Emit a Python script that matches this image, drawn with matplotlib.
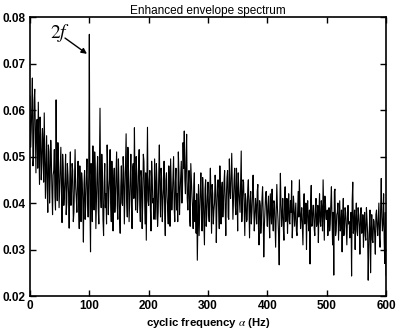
import numpy as np
import matplotlib
matplotlib.use("Agg")
import matplotlib.pyplot as plt

# spectrum values in units of 1e-3
# even_e3: 0, 2, 4 ... 600 Hz ; odd_e3: 1, 3, 5 ... 599 Hz
even_e3 = [
    63.0, 55.5, 66.9, 50.0, 64.5, 46.5, 58.0, 61.7, 44.0, 55.0,
    48.5, 53.0, 59.4, 41.0, 54.5, 38.0, 51.0, 45.5, 49.5, 37.5,
    47.0, 41.5, 62.2, 40.5, 49.0, 43.5, 52.0, 35.8, 47.5, 42.0,
    50.5, 40.0, 46.0, 34.6, 51.0, 42.5, 47.0, 38.0, 51.5, 41.0,
    45.0, 39.5, 48.0, 36.0, 44.5, 31.6, 47.0, 40.0, 49.5, 37.0,
    76.3, 29.5, 45.0, 52.3, 38.5, 47.5, 41.0, 50.0, 35.5, 60.4,
    39.0, 46.0, 33.0, 48.5, 42.0, 52.5, 37.5, 45.0, 40.0, 49.0,
    34.0, 47.5, 41.5, 51.0, 36.5, 44.0, 33.5, 48.0, 39.5, 46.5,
    42.0, 54.9, 37.0, 47.0, 40.5, 50.5, 34.5, 48.5, 56.2, 38.5,
    46.0, 41.0, 51.5, 36.0, 45.5, 40.0, 49.0, 35.5, 32.0, 56.3,
    39.5, 47.0, 34.0, 45.5, 41.0, 49.5, 36.5, 44.0, 38.0, 52.5,
    37.0, 45.0, 40.5, 49.0, 33.0, 46.5, 39.0, 48.0, 35.0, 44.0,
    41.5, 50.0, 36.0, 47.5, 42.0, 51.0, 37.5, 45.5, 40.0, 53.0,
    55.5, 42.0, 54.8, 38.5, 47.0, 35.0, 45.0, 39.0, 43.5, 36.0,
    33.5, 27.7, 44.0, 38.0, 46.5, 34.0, 41.5, 31.0, 45.0, 37.5,
    44.5, 36.0, 47.5, 33.5, 42.0, 38.5, 46.0, 31.5, 43.0, 39.0,
    48.0, 35.5, 44.5, 40.0, 47.0, 33.0, 45.5, 37.0, 49.5, 41.0,
    50.7, 36.5, 45.0, 39.5, 47.5, 34.0, 43.0, 38.0, 51.2, 40.0,
    44.5, 33.0, 40.5, 36.5, 45.0, 32.5, 42.5, 38.0, 46.0, 34.0,
    41.0, 35.5, 44.0, 31.0, 39.5, 36.0, 43.5, 28.4, 38.5, 42.5,
    35.0, 41.5, 32.5, 39.0, 43.0, 34.0, 40.0, 30.5, 44.0, 36.5,
    26.7, 46.4, 35.0, 41.0, 32.0, 43.5, 37.0, 33.5, 42.0, 35.5,
    38.0, 32.5, 41.5, 35.0, 40.0, 33.0, 42.5, 45.0, 34.5, 39.0,
    31.0, 42.0, 36.5, 30.0, 40.5, 34.0, 26.9, 43.8, 35.5, 39.5,
    33.0, 41.0, 36.0, 31.5, 42.0, 35.0, 38.5, 45.0, 32.0, 40.0,
    36.5, 33.0, 39.0, 35.5, 43.5, 31.0, 24.5, 43.0, 34.0, 38.0,
    32.0, 40.5, 35.0, 29.5, 41.0, 34.5, 38.0, 31.0, 39.5, 36.0,
    33.5, 24.3, 44.5, 35.0, 30.0, 40.0, 33.0, 37.5, 29.0, 39.0,
    34.0, 30.5, 38.0, 32.0, 36.5, 23.4, 35.0, 25.0, 37.5, 31.5,
    36.0, 29.0, 38.5, 33.0, 40.0, 30.5, 45.3, 34.0, 42.0, 27.0,
    24.5,
]
odd_e3 = [
    52.0, 60.5, 48.0, 62.0, 55.0, 57.5, 47.5, 52.5, 58.5, 45.0,
    56.0, 44.5, 50.0, 47.5, 43.0, 52.5, 40.0, 53.5, 42.5, 46.0,
    51.5, 38.5, 45.5, 53.0, 39.0, 48.0, 42.5, 50.5, 39.5, 45.5,
    37.5, 48.5, 42.0, 44.5, 39.5, 48.5, 36.0, 45.0, 43.5, 38.0,
    49.0, 34.5, 43.0, 46.5, 40.5, 44.0, 36.5, 45.5, 41.5, 46.0,
    40.0, 48.5, 36.0, 43.5, 51.0, 34.5, 46.5, 39.0, 47.0, 42.0,
    50.5, 36.5, 44.5, 39.0, 35.5, 47.0, 42.5, 51.5, 36.0, 43.0,
    45.0, 38.0, 46.0, 39.5, 49.5, 37.0, 43.5, 40.0, 50.0, 35.5,
    47.5, 40.5, 52.0, 36.0, 45.0, 39.5, 47.5, 41.0, 44.0, 50.0,
    38.0, 48.0, 39.5, 47.0, 34.5, 50.5, 42.0, 46.5, 44.5, 40.5,
    45.0, 38.5, 49.0, 40.0, 36.5, 43.0, 48.5, 35.0, 46.0, 42.0,
    47.5, 36.0, 43.0, 38.0, 45.0, 41.5, 35.5, 44.0, 49.5, 38.5,
    46.0, 39.0, 44.5, 38.5, 36.0, 46.5, 42.5, 49.0, 43.0, 47.5,
    45.0, 49.5, 41.0, 44.0, 37.0, 48.5, 41.5, 34.5, 46.5, 40.5,
    42.0, 36.5, 33.0, 42.5, 39.0, 45.5, 36.0, 43.0, 35.0, 41.5,
    38.0, 42.5, 40.5, 44.0, 35.5, 40.0, 43.5, 39.0, 45.0, 34.5,
    41.0, 43.0, 37.0, 44.5, 39.0, 41.5, 47.0, 36.5, 43.0, 45.5,
    43.5, 41.0, 47.5, 37.5, 42.5, 46.5, 40.5, 44.5, 36.0, 45.0,
    38.5, 42.0, 36.0, 43.0, 39.5, 40.5, 35.5, 41.5, 40.0, 37.0,
    39.0, 42.5, 35.0, 40.5, 33.5, 41.0, 38.0, 35.0, 41.5, 37.5,
    39.5, 36.0, 42.0, 35.5, 37.5, 40.5, 35.0, 38.5, 39.0, 33.0,
    38.0, 40.0, 37.5, 34.5, 40.5, 36.0, 41.0, 38.5, 36.0, 40.5,
    44.8, 36.0, 39.0, 37.5, 34.0, 38.0, 37.0, 39.5, 37.0, 35.0,
    39.0, 35.5, 40.0, 38.5, 36.0, 38.5, 40.5, 35.0, 39.5, 34.5,
    38.5, 35.0, 39.5, 38.0, 36.0, 40.5, 34.0, 39.0, 41.5, 36.5,
    38.5, 36.5, 34.0, 40.0, 36.5, 38.0, 42.5, 33.0, 37.5, 40.0,
    36.0, 34.0, 38.5, 37.0, 33.0, 39.0, 34.5, 37.0, 35.5, 32.5,
    38.0, 40.5, 33.5, 38.5, 36.5, 34.0, 39.0, 35.0, 37.5, 33.5,
    37.5, 35.5, 33.0, 39.0, 33.5, 30.5, 38.5, 34.0, 32.0, 36.5,
    33.0, 37.5, 35.0, 36.5, 32.5, 39.0, 37.0, 36.0, 31.5, 38.0,
]

x_ticks = [0, 100, 200, 300, 400, 500, 600]
y_ticks = [0.02, 0.03, 0.04, 0.05, 0.06, 0.07, 0.08]

# put the two halves back in frequency order
amp = np.empty(len(even_e3) + len(odd_e3))
amp[0::2] = even_e3
amp[1::2] = odd_e3
amp = amp * 1e-3
freq = np.arange(len(amp))

plt.rcParams['font.family'] = ['Liberation Sans', 'DejaVu Sans']
plt.rcParams['mathtext.fontset'] = 'stix'

fig = plt.figure(figsize=(4.0, 3.36), dpi=100)
ax = fig.add_axes([0.075, 0.119, 0.89, 0.830])

ax.plot(freq, amp, color='black', lw=0.8)

ax.set_xlim(0, 600)
ax.set_ylim(0.02, 0.08)
ax.set_xticks(x_ticks)
ax.set_yticks(y_ticks)
ax.set_yticklabels([f"{v:.2f}" for v in y_ticks])
ax.tick_params(direction='in', top=True, right=True, length=4, width=1,
               labelsize=8.5, pad=3)
for lab in ax.get_xticklabels() + ax.get_yticklabels():
    lab.set_fontweight('bold')
for sp in ax.spines.values():
    sp.set_linewidth(1.2)

ax.set_title("Enhanced envelope spectrum", fontsize=8.5, pad=2)
ax.set_xlabel(r"cyclic frequency $\alpha$ (Hz)", fontsize=8.2, fontweight='bold', labelpad=3)

# marker for the 2f component
ax.text(33, 0.0756, r"$2f$", fontsize=14)
ax.annotate("", xy=(96, 0.0721), xytext=(59, 0.0755),
            arrowprops=dict(arrowstyle='-|>', color='black', lw=1,
                            mutation_scale=8, shrinkA=0, shrinkB=0))

fig.savefig("out.png", dpi=100)
